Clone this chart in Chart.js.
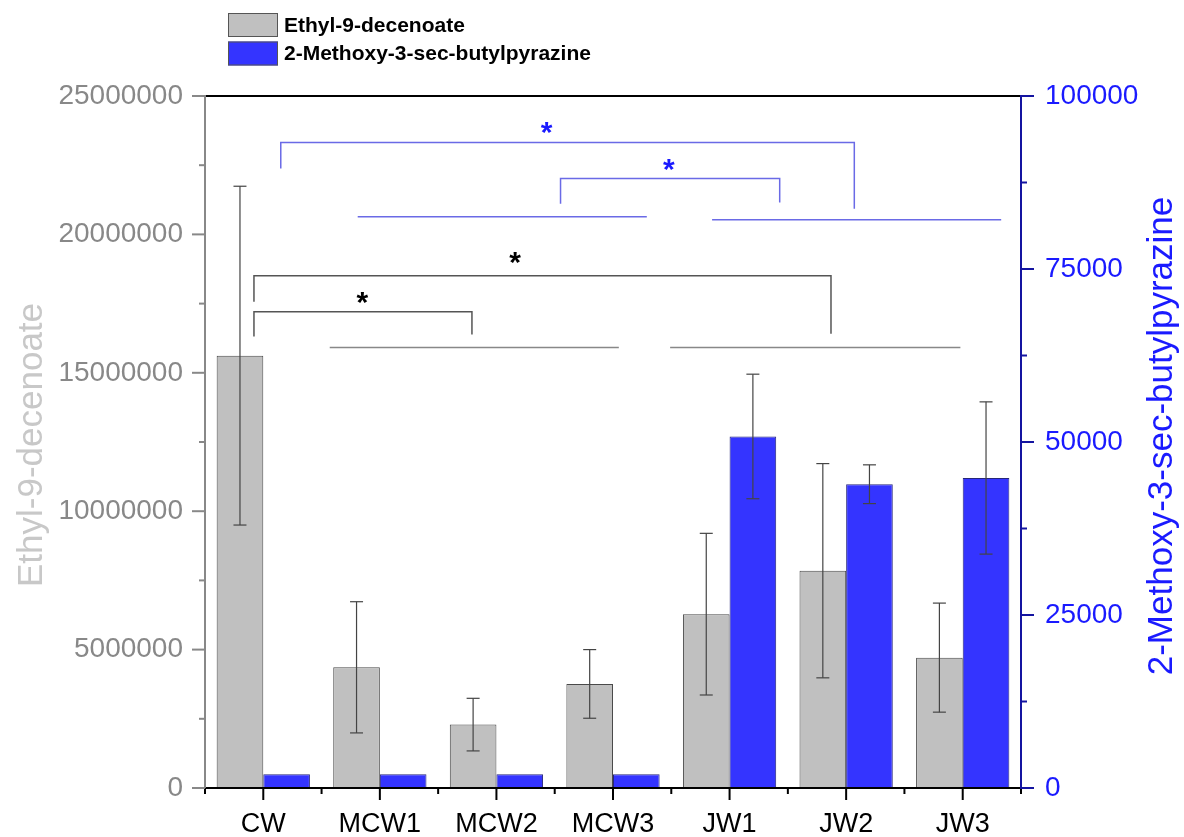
<!DOCTYPE html>
<html>
<head>
<meta charset="utf-8">
<script src="https://cdn.jsdelivr.net/npm/chart.js@4.4.1/dist/chart.umd.min.js"></script>
<style>
  html, body { margin: 0; padding: 0; background: #fff; }
  canvas { display: block; }
</style>
</head>
<body>
<canvas id="chart" width="1184" height="837"></canvas>
<script>
// values
const categories = ['CW', 'MCW1', 'MCW2', 'MCW3', 'JW1', 'JW2', 'JW3'];
const ethylMean = [15620000, 4360000, 2290000, 3760000, 6280000, 7850000, 4710000];
const ethylSd = [6120000, 2370000, 950000, 1240000, 2920000, 3870000, 1970000];
const pyrazineMean = [2000, 2000, 2000, 2000, 50800, 43900, 44800];
const pyrazineSd = [0, 0, 0, 0, 9000, 2800, 11000];
const leftTickValues = [0, 5000000, 10000000, 15000000, 20000000, 25000000];
const rightTickValues = [0, 25000, 50000, 75000, 100000];

// significance marks, x in category index, y in left-axis units
const blueBrackets = [
  { x1: 0.15, x2: 5.07, top: 23320000, end1: 22380000, end2: 20930000, starX: 2.43, starY: 23860000 },
  { x1: 2.55, x2: 4.43, top: 22020000, end1: 21110000, end2: 21150000, starX: 3.48, starY: 22520000 }
];
const blueGroupLines = [
  { x1: 0.81, x2: 3.29, y: 20640000 },
  { x1: 3.85, x2: 6.33, y: 20530000 }
];
const blackBrackets = [
  { x1: -0.08, x2: 4.87, top: 18510000, end1: 17570000, end2: 16410000, starX: 2.16, starY: 19160000 },
  { x1: -0.08, x2: 1.79, top: 17210000, end1: 16310000, end2: 16380000, starX: 0.85, starY: 17720000 }
];
const greyGroupLines = [
  { x1: 0.57, x2: 3.05, y: 15910000 },
  { x1: 3.49, x2: 5.98, y: 15910000 }
];

const FONT = '"Liberation Sans", Arial, sans-serif';

function withMinor(ticks) {
  const out = [];
  for (let i = 0; i < ticks.length; i++) {
    out.push(ticks[i]);
    if (i < ticks.length - 1) out.push((ticks[i] + ticks[i + 1]) / 2);
  }
  return out;
}

function line(ctx, x1, y1, x2, y2) {
  ctx.beginPath();
  ctx.moveTo(x1, y1);
  ctx.lineTo(x2, y2);
  ctx.stroke();
}

function drawStar(ctx, x, y, color) {
  ctx.save();
  ctx.font = 'bold 30px ' + FONT;
  ctx.fillStyle = color;
  ctx.textAlign = 'center';
  ctx.textBaseline = 'alphabetic';
  const m = ctx.measureText('*');
  const off = (m.actualBoundingBoxAscent - m.actualBoundingBoxDescent) / 2;
  ctx.fillText('*', x, y + off);
  ctx.restore();
}

function drawBrackets(chart, list, lines, color, starColor, lineColor) {
  const ctx = chart.ctx;
  const xs = chart.scales.x, ys = chart.scales.y;
  ctx.save();
  ctx.lineWidth = 1.5;
  ctx.strokeStyle = color;
  list.forEach(b => {
    const x1 = xs.getPixelForValue(b.x1), x2 = xs.getPixelForValue(b.x2);
    const top = ys.getPixelForValue(b.top);
    ctx.beginPath();
    ctx.moveTo(x1, ys.getPixelForValue(b.end1));
    ctx.lineTo(x1, top);
    ctx.lineTo(x2, top);
    ctx.lineTo(x2, ys.getPixelForValue(b.end2));
    ctx.stroke();
    drawStar(ctx, xs.getPixelForValue(b.starX), ys.getPixelForValue(b.starY), starColor);
  });
  ctx.strokeStyle = lineColor;
  lines.forEach(l => {
    const y = ys.getPixelForValue(l.y);
    line(ctx, xs.getPixelForValue(l.x1), y, xs.getPixelForValue(l.x2), y);
  });
  ctx.restore();
}

const decor = {
  id: 'decor',
  afterDatasetsDraw(chart) {
    const { ctx, chartArea: a, scales } = chart;

    // error bars
    ctx.save();
    ctx.strokeStyle = '#444';
    ctx.lineWidth = 1.2;
    chart.data.datasets.forEach((ds, di) => {
      const meta = chart.getDatasetMeta(di);
      const sc = scales[ds.yAxisID];
      meta.data.forEach((bar, i) => {
        const e = ds.errors[i];
        if (!e) return;
        const yHi = sc.getPixelForValue(ds.data[i] + e);
        const yLo = sc.getPixelForValue(ds.data[i] - e);
        line(ctx, bar.x, yHi, bar.x, yLo);
        line(ctx, bar.x - 6.5, yHi, bar.x + 6.5, yHi);
        line(ctx, bar.x - 6.5, yLo, bar.x + 6.5, yLo);
      });
    });
    ctx.restore();

    // significance brackets
    drawBrackets(chart, blueBrackets, blueGroupLines, '#6a6ae6', '#1a1aff', '#6a6ae6');
    drawBrackets(chart, blackBrackets, greyGroupLines, '#555', '#000', '#888');

    // axes
    ctx.save();
    ctx.lineWidth = 2;
    ctx.strokeStyle = '#000';
    line(ctx, a.left, a.top, a.right, a.top);
    line(ctx, a.left - 1, a.bottom, a.right + 1, a.bottom);
    // x ticks
    const xs = scales.x;
    categories.forEach((c, i) => {
      const px = xs.getPixelForValue(i);
      line(ctx, px, a.bottom, px, a.bottom + 12);
    });
    for (let i = 0; i <= categories.length; i++) {
      const px = xs.getPixelForValue(i - 0.5);
      line(ctx, px, a.bottom, px, a.bottom + 6);
    }
    // left axis
    ctx.strokeStyle = '#888';
    line(ctx, a.left, a.top - 1, a.left, a.bottom);
    scales.y.ticks.forEach(t => {
      const py = scales.y.getPixelForValue(t.value);
      const len = leftTickValues.includes(t.value) ? 13 : 6;
      line(ctx, a.left - len, py, a.left, py);
    });
    // right axis
    ctx.strokeStyle = '#1414a0';
    line(ctx, a.right, a.top - 1, a.right, a.bottom + 1);
    scales.y1.ticks.forEach(t => {
      const py = scales.y1.getPixelForValue(t.value);
      const len = rightTickValues.includes(t.value) ? 13 : 6;
      line(ctx, a.right, py, a.right + len, py);
    });
    ctx.restore();
  },
  afterDraw(chart) {
    const { ctx, chartArea: a } = chart;
    const midY = (a.top + a.bottom) / 2;

    // axis titles, both reading bottom-to-top
    ctx.save();
    ctx.font = '35px ' + FONT;
    ctx.textAlign = 'center';
    ctx.textBaseline = 'alphabetic';
    ctx.fillStyle = '#c8c8c8';
    ctx.translate(42, midY + 3);
    ctx.rotate(-Math.PI / 2);
    ctx.fillText(chart.data.datasets[0].label, 0, 0);
    ctx.restore();

    ctx.save();
    ctx.font = '35px ' + FONT;
    ctx.textAlign = 'center';
    ctx.textBaseline = 'alphabetic';
    ctx.fillStyle = '#1a1aff';
    ctx.translate(1172, midY - 6);
    ctx.rotate(-Math.PI / 2);
    ctx.fillText(chart.data.datasets[1].label, 0, 0);
    ctx.restore();

    // legend
    ctx.save();
    ctx.font = 'bold 21px ' + FONT;
    ctx.textBaseline = 'middle';
    ctx.lineWidth = 1;
    chart.data.datasets.forEach((ds, i) => {
      const top = 13 + i * 28.5;
      ctx.fillStyle = ds.backgroundColor;
      ctx.fillRect(228, top, 50, 24);
      ctx.strokeStyle = '#555';
      ctx.strokeRect(228.5, top + 0.5, 49, 23);
      ctx.fillStyle = '#000';
      ctx.fillText(ds.label, 284, top + 13);
    });
    ctx.restore();
  }
};

new Chart(document.getElementById('chart'), {
  type: 'bar',
  data: {
    labels: categories,
    datasets: [
      {
        label: 'Ethyl-9-decenoate',
        data: ethylMean,
        errors: ethylSd,
        yAxisID: 'y',
        backgroundColor: '#c0c0c0',
        borderColor: '#4a4a4a',
        borderWidth: 1,
        categoryPercentage: 0.8,
        barPercentage: 1.0
      },
      {
        label: '2-Methoxy-3-sec-butylpyrazine',
        data: pyrazineMean,
        errors: pyrazineSd,
        yAxisID: 'y1',
        backgroundColor: '#3434ff',
        borderColor: '#26267a',
        borderWidth: 1,
        categoryPercentage: 0.8,
        barPercentage: 1.0
      }
    ]
  },
  options: {
    responsive: false,
    animation: false,
    devicePixelRatio: 1,
    layout: { padding: { top: 96, left: 0, right: 0, bottom: 0 } },
    plugins: { legend: { display: false }, tooltip: { enabled: false } },
    scales: {
      x: {
        grid: { display: false, drawTicks: false },
        border: { display: false },
        ticks: { color: '#000', font: { family: FONT, size: 27 }, padding: 20, maxRotation: 0, autoSkip: false },
        afterFit: s => { s.height = 49; }
      },
      y: {
        position: 'left',
        min: 0,
        max: 25000000,
        grid: { display: false, drawTicks: false },
        border: { display: false },
        afterBuildTicks: s => { s.ticks = withMinor(leftTickValues).map(v => ({ value: v })); },
        ticks: {
          autoSkip: false,
          color: '#888',
          font: { family: FONT, size: 28 },
          padding: 22,
          callback: v => leftTickValues.includes(v) ? String(v) : ''
        },
        afterFit: s => { s.width = 205; }
      },
      y1: {
        position: 'right',
        min: 0,
        max: 100000,
        grid: { display: false, drawTicks: false },
        border: { display: false },
        afterBuildTicks: s => { s.ticks = withMinor(rightTickValues).map(v => ({ value: v })); },
        ticks: {
          autoSkip: false,
          color: '#1a1aff',
          font: { family: FONT, size: 28 },
          padding: 24,
          callback: v => rightTickValues.includes(v) ? String(v) : ''
        },
        afterFit: s => { s.width = 163; }
      }
    }
  },
  plugins: [decor]
});
</script>
</body>
</html>
